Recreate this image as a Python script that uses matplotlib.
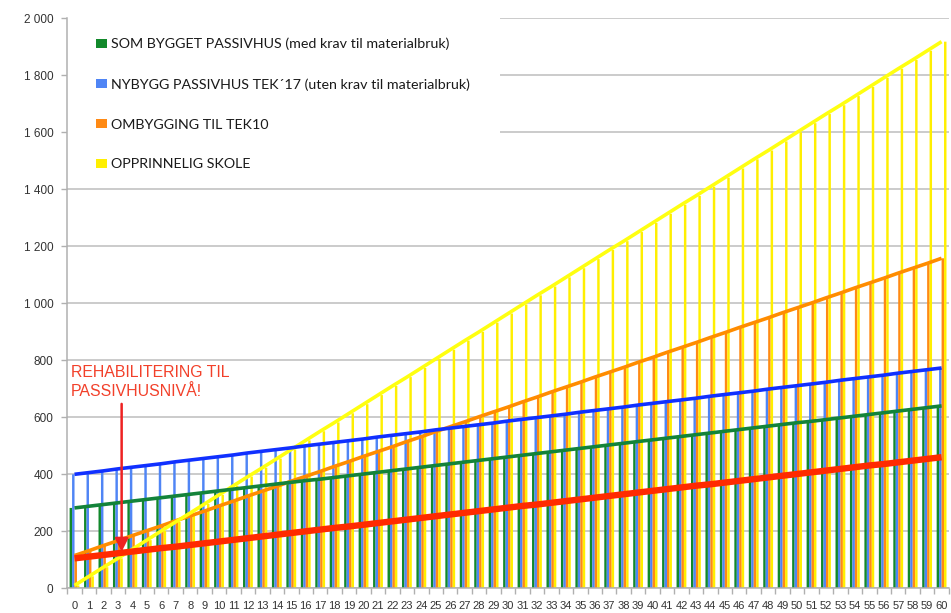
import numpy as np
import matplotlib
matplotlib.use("Agg")
import matplotlib.pyplot as plt
from matplotlib.patches import Patch, Rectangle

# ---- data -------------------------------------------------------------
years = list(range(0, 61))

som_bygget_passivhus = [282, 288, 294, 300, 306, 312, 318, 324, 330, 336, 342, 348, 354, 360, 366,
                        372, 378, 383, 389, 395, 401, 407, 413, 419, 425, 431, 437, 443, 449, 455,
                        461, 467, 473, 479, 485, 491, 497, 503, 509, 515, 521, 527, 533, 539, 545,
                        551, 557, 563, 569, 575, 581, 586, 592, 598, 604, 610, 616, 622, 628, 634, 640]

nybygg_passivhus = [400, 406, 412, 419, 425, 431, 437, 444, 450, 456, 462, 468, 475, 481, 487,
                    493, 500, 506, 512, 518, 524, 531, 537, 543, 549, 556, 562, 568, 574, 580,
                    587, 593, 599, 605, 611, 618, 624, 630, 636, 643, 649, 655, 661, 667, 674,
                    680, 686, 692, 699, 705, 711, 717, 723, 730, 736, 742, 748, 755, 761, 767, 773]

ombygging_tek10 = [115, 132, 150, 167, 185, 202, 219, 237, 254, 271, 289, 306, 324, 341, 358,
                   376, 393, 410, 428, 445, 463, 480, 497, 515, 532, 550, 567, 584, 602, 619,
                   636, 654, 671, 689, 706, 723, 741, 758, 775, 793, 810, 828, 845, 862, 880,
                   897, 915, 932, 949, 967, 984, 1001, 1019, 1036, 1054, 1071, 1088, 1106, 1123, 1140, 1158]

opprinnelig_skole = [10, 42, 74, 105, 137, 169, 201, 233, 264, 296, 328, 360, 392, 423, 455,
                     487, 519, 551, 582, 614, 646, 678, 710, 741, 773, 805, 837, 869, 900, 932,
                     964, 996, 1028, 1059, 1091, 1123, 1155, 1187, 1218, 1250, 1282, 1314, 1346, 1377, 1409,
                     1441, 1473, 1505, 1536, 1568, 1600, 1632, 1664, 1695, 1727, 1759, 1791, 1823, 1854, 1886, 1918]

rehabilitering_passivhus = [105, 111, 117, 123, 129, 135, 141, 146, 152, 158, 164, 170, 176, 182, 188,
                            194, 200, 206, 212, 217, 223, 229, 235, 241, 247, 253, 259, 265, 271, 277,
                            283, 289, 294, 300, 306, 312, 318, 324, 330, 336, 342, 348, 354, 360, 365,
                            371, 377, 383, 389, 395, 401, 407, 413, 419, 425, 431, 436, 442, 448, 454, 460]

series_labels = [
    "SOM BYGGET PASSIVHUS (med krav til materialbruk)",
    "NYBYGG PASSIVHUS TEK´17 (uten krav til materialbruk)",
    "OMBYGGING TIL TEK10",
    "OPPRINNELIG SKOLE",
]

y_ticks = [0, 200, 400, 600, 800, 1000, 1200, 1400, 1600, 1800, 2000]
y_tick_labels = ["0", "200", "400", "600", "800", "1 000", "1 200", "1 400", "1 600", "1 800", "2 000"]

annotation_lines = ["REHABILITERING TIL", "PASSIVHUSNIVÅ!"]
arrow_year = 3.26
arrow_from = 647
arrow_to = 128

# ---- style ------------------------------------------------------------
bar_colors = ["#12892b", "#4f85f5", "#ff8a14", "#ffef00"]
line_colors = ["#13833a", "#1030ff", "#ff8c00", "#ffff10"]
red = "#ff2a00"

fig = plt.figure(figsize=(9.51, 6.13), dpi=100)
ax = fig.add_axes([67.3 / 951, 24.7 / 613, 881.5 / 951, 570.0 / 613])

x = np.arange(len(years))
w = 0.17
series = [som_bygget_passivhus, nybygg_passivhus, ombygging_tek10, opprinnelig_skole]
for i, (vals, col) in enumerate(zip(series, bar_colors)):
    ax.bar(x + (i - 1.5) * w, vals, width=w, color=col, linewidth=0, zorder=2, snap=False)

# trend lines through the bar tops
line_order = [2, 3, 0, 1]
for i in line_order:
    ax.plot(x, series[i], color=line_colors[i], lw=2.6, zorder=3 + line_order.index(i),
            solid_capstyle="butt")
ax.plot(x, rehabilitering_passivhus, color=red, lw=4.6, zorder=8, solid_capstyle="butt")

# axes
ax.set_xlim(-0.5, len(years) - 0.5)
ax.set_ylim(0, 2000)
ax.set_yticks(y_ticks)
ax.set_yticklabels(y_tick_labels)
ax.set_xticks(x)
ax.set_xticklabels([str(v) for v in years])
ax.set_xticks(np.arange(-0.5, len(years)), minor=True)

tick_font = "Liberation Sans"
for lab in ax.get_yticklabels():
    lab.set_fontfamily(tick_font)
for lab in ax.get_xticklabels():
    lab.set_fontfamily(tick_font)

ax.tick_params(axis="y", which="major", length=4, width=1, color="#b0b0b0",
               labelsize=8.5, labelcolor="#333333", pad=6)
ax.tick_params(axis="x", which="major", length=0, labelsize=8, labelcolor="#333333", pad=9)
ax.tick_params(axis="x", which="minor", length=4, width=1, color="#b0b0b0")

ax.grid(axis="y", color="#bdbdbd", lw=1.1, zorder=0)
ax.set_axisbelow(True)
for s in ["top", "right"]:
    ax.spines[s].set_visible(False)
for s in ["left", "bottom"]:
    ax.spines[s].set_color("#b0b0b0")
    ax.spines[s].set_linewidth(1.1)

# white panel behind the legend
ax.add_patch(Rectangle((0.0, 0.713), 0.491, 0.30, transform=ax.transAxes,
                       facecolor="white", edgecolor="none", zorder=1.5, clip_on=False))

# legend
handles = [Patch(facecolor=c, edgecolor="none") for c in bar_colors]
leg = ax.legend(handles, series_labels, loc="upper left", bbox_to_anchor=(0.0326, 0.966),
                frameon=False, borderaxespad=0, borderpad=0,
                handlelength=0.78, handleheight=0.6, handletextpad=0.3,
                labelspacing=1.95, prop={"family": "Lato", "size": 10.3})
leg.set_zorder(10)
for t in leg.get_texts():
    t.set_color("#1a1a1a")

# annotation
ax.text(-0.25, 742, annotation_lines[0], color="#f2402a", fontsize=11.4,
        family="Liberation Sans", va="baseline", ha="left", zorder=11)
ax.text(-0.25, 676, annotation_lines[1], color="#f2402a", fontsize=11.4,
        family="Liberation Sans", va="baseline", ha="left", zorder=11)
ax.annotate("", xy=(arrow_year, arrow_to), xytext=(arrow_year, arrow_from),
            arrowprops=dict(arrowstyle="-|>", color="#ee2222", lw=1.8,
                            mutation_scale=20, shrinkA=0, shrinkB=0),
            zorder=11)

fig.savefig("out.png", dpi=100, facecolor="white")
